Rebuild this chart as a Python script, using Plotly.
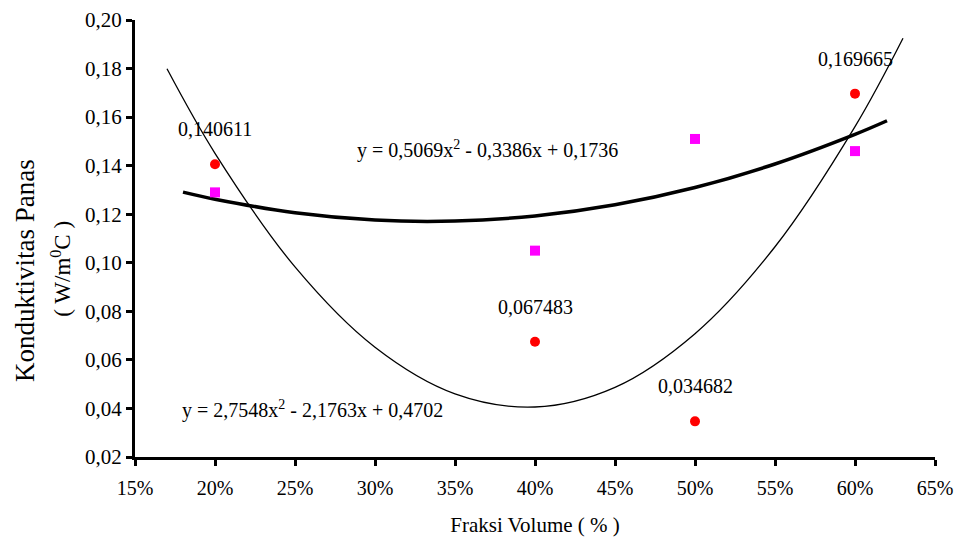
import plotly.graph_objects as go

# Measured data
fraksi = [0.20, 0.40, 0.50, 0.60]
konduktivitas_a = [0.140611, 0.067483, 0.034682, 0.169665]   # red circles
label_a = ["0,140611", "0,067483", "0,034682", "0,169665"]
konduktivitas_b = [0.129, 0.105, 0.151, 0.146]               # magenta squares

# Trendline curves
trend_a_x = [0.17, 0.20, 0.25, 0.30, 0.35, 0.40, 0.45, 0.50, 0.55, 0.60, 0.63]
trend_a_y = [0.1799, 0.1451, 0.0983, 0.0652, 0.0460, 0.0406, 0.0487, 0.0708, 0.1066, 0.1561, 0.1925]
trend_b_x = [0.18, 0.20, 0.25, 0.30, 0.35, 0.40, 0.45, 0.50, 0.55, 0.60, 0.62]
trend_b_y = [0.1291, 0.1262, 0.1206, 0.1176, 0.1172, 0.1193, 0.1239, 0.1310, 0.1407, 0.1529, 0.1585]

eq_a = "y = 2,7548x<sup>2</sup> - 2,1763x + 0,4702"
eq_b = "y = 0,5069x<sup>2</sup> - 0,3386x + 0,1736"

FONT = "Liberation Serif"

fig = go.Figure()
fig.add_trace(go.Scatter(x=trend_a_x, y=trend_a_y, mode="lines",
                         line=dict(color="black", width=1.3, shape="spline"),
                         hoverinfo="skip", showlegend=False))
fig.add_trace(go.Scatter(x=trend_b_x, y=trend_b_y, mode="lines",
                         line=dict(color="black", width=3.5, shape="spline"),
                         hoverinfo="skip", showlegend=False))
fig.add_trace(go.Scatter(x=fraksi, y=konduktivitas_a, mode="markers",
                         marker=dict(symbol="circle", size=10, color="#ff0000"),
                         showlegend=False))
fig.add_trace(go.Scatter(x=fraksi, y=konduktivitas_b, mode="markers",
                         marker=dict(symbol="square", size=10, color="#ff00ff"),
                         showlegend=False))

for xv, yv, t in zip(fraksi, konduktivitas_a, label_a):
    fig.add_annotation(x=xv, y=yv, text=t, showarrow=False, yshift=35,
                       font=dict(family=FONT, size=20, color="black"))

fig.add_annotation(x=0.2875, y=0.1465, xref="x", yref="y", text=eq_b, showarrow=False,
                   xanchor="left", yanchor="middle",
                   font=dict(family=FONT, size=20, color="black"))
fig.add_annotation(x=0.178, y=0.0394, xref="x", yref="y", text=eq_a, showarrow=False,
                   xanchor="left", yanchor="middle",
                   font=dict(family=FONT, size=20, color="black"))

fig.add_annotation(x=-0.1375, y=0.428, xref="paper", yref="paper", text="Konduktivitas Panas",
                   textangle=-90, showarrow=False, xanchor="center", yanchor="middle",
                   font=dict(family=FONT, size=27, color="black"))
fig.add_annotation(x=-0.093, y=0.43, xref="paper", yref="paper",
                   text="( W/m<sup>0</sup>C )",
                   textangle=-90, showarrow=False, xanchor="center", yanchor="middle",
                   font=dict(family=FONT, size=23, color="black"))

fig.update_layout(
    width=960, height=538,
    margin=dict(l=135, r=25, t=20, b=81),
    paper_bgcolor="white", plot_bgcolor="white",
    separators=", ",
    font=dict(family=FONT, size=20, color="black"),
    xaxis=dict(range=[0.15, 0.65], tick0=0.15, dtick=0.05, tickformat=".0%",
               automargin=False, tickfont=dict(family=FONT, size=20), ticklabelstandoff=5,
               showgrid=False, zeroline=False, showline=True, linecolor="black",
               linewidth=3, ticks="outside", ticklen=6, tickwidth=2.5, tickcolor="black",
               title=dict(text="Fraksi Volume ( % )", standoff=20,
                          font=dict(family=FONT, size=21))),
    yaxis=dict(range=[0.02, 0.20], tick0=0.02, dtick=0.02, tickformat=".2f",
               automargin=False, tickfont=dict(family=FONT, size=21),
               showgrid=False, zeroline=False, showline=True, linecolor="black",
               linewidth=3, ticks="outside", ticklen=6, tickwidth=2.5, tickcolor="black"),
)

fig.write_html("out.html", config={"displayModeBar": False},
               post_script="document.body.style.margin='0';document.body.style.padding='0';")
